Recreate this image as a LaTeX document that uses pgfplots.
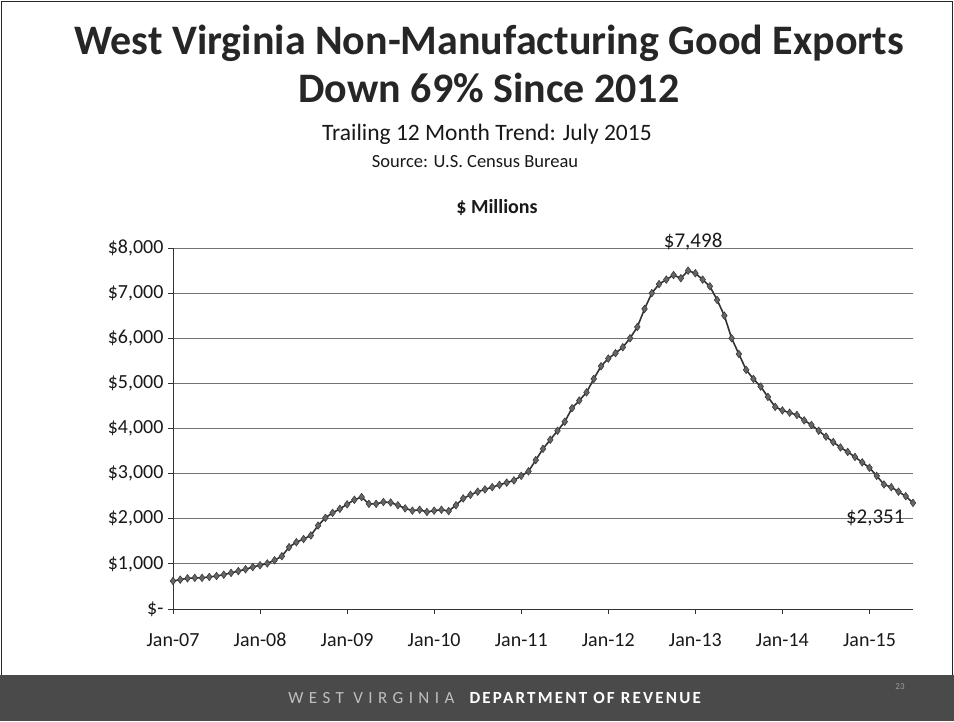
\documentclass[border=0pt]{standalone}
\usepackage{pgfplots}
\pgfplotsset{compat=1.18}
\usepackage{fontspec}
\setmainfont{Carlito}
\definecolor{linegray}{HTML}{333333}
\definecolor{markgray}{HTML}{666666}
\definecolor{footbar}{HTML}{4A4A4A}
\begin{document}
\begin{tikzpicture}[x=1pt,y=1pt]
\fill[white] (0,0) rectangle (954,721);
\fill[footbar] (0,0) rectangle (954,46);
\draw[black!85, line width=1.6pt] (1.5,46) -- (1.5,719.5) -- (952.5,719.5) -- (952.5,46);
\node[font=\fontsize{42}{48}\selectfont\bfseries, text=black!85, anchor=base] at (489,666) {West Virginia Non-Manufacturing Good Exports};
\node[font=\fontsize{42}{48}\selectfont\bfseries, text=black!85, anchor=base] at (489,618) {Down 69\% Since 2012};
\node[font=\fontsize{23.5}{27}\selectfont, text=black!90, anchor=base] at (487,580) {Trailing 12 Month Trend: July 2015};
\node[font=\fontsize{18.5}{21}\selectfont, text=black!90, anchor=base] at (475,553) {Source: U.S. Census Bureau};
\node[font=\fontsize{20}{24}\selectfont\bfseries, text=black!90, anchor=base] at (497,507) {\$ Millions};
\node[font=\fontsize{17}{19}\selectfont, text=black!25, anchor=east] at (458,23) {\addfontfeatures{LetterSpace=32}WEST VIRGINIA};
\node[font=\fontsize{17}{19}\selectfont\bfseries, text=white, anchor=west] at (466,23) {\addfontfeatures{LetterSpace=13}DEPARTMENT OF REVENUE};
\node[font=\fontsize{9}{10}\selectfont, text=black!40] at (900,34) {23};
\begin{axis}[
  at={(173pt,112pt)}, anchor=south west, scale only axis,
  width=740pt, height=361pt,
  xmin=0, xmax=102, ymin=0, ymax=8000,
  axis x line=bottom, axis y line=left,
  axis line style={-, black!80, line width=0.9pt},
  xtick={0,12,24,36,48,60,72,84,96},
  xticklabels={Jan-07,Jan-08,Jan-09,Jan-10,Jan-11,Jan-12,Jan-13,Jan-14,Jan-15},
  ytick={0,1000,2000,3000,4000,5000,6000,7000,8000},
  yticklabels={\$-,\$1{,}000,\$2{,}000,\$3{,}000,\$4{,}000,\$5{,}000,\$6{,}000,\$7{,}000,\$8{,}000},
  tick align=outside, major tick length=5pt,
  tick style={black!80, line width=0.8pt},
  ymajorgrids, major grid style={black!55, line width=0.8pt},
  ticklabel style={font=\fontsize{20}{22}\selectfont, text=black!90},
  yticklabel style={xshift=-1pt},
  xticklabel style={anchor=base, yshift=-32pt},
  clip=false,
]
\addplot[color=linegray, line width=1.6pt, mark=diamond*, mark size=3.8pt,
  mark options={fill=markgray, draw=linegray, line width=0.5pt}] table {
x y
0 620
1 650
2 680
3 690
4 690
5 710
6 730
7 760
8 800
9 840
10 880
11 930
12 970
13 1010
14 1080
15 1170
16 1370
17 1480
18 1550
19 1630
20 1850
21 2020
22 2130
23 2220
24 2320
25 2420
26 2480
27 2330
28 2330
29 2370
30 2360
31 2300
32 2230
33 2180
34 2200
35 2150
36 2180
37 2200
38 2170
39 2300
40 2450
41 2530
42 2600
43 2650
44 2700
45 2750
46 2800
47 2850
48 2950
49 3050
50 3300
51 3550
52 3750
53 3950
54 4150
55 4450
56 4620
57 4800
58 5100
59 5380
60 5550
61 5670
62 5800
63 6000
64 6250
65 6650
66 7000
67 7200
68 7300
69 7400
70 7330
71 7498
72 7440
73 7300
74 7150
75 6850
76 6500
77 6000
78 5650
79 5300
80 5100
81 4930
82 4700
83 4480
84 4400
85 4350
86 4300
87 4180
88 4080
89 3950
90 3820
91 3700
92 3580
93 3480
94 3370
95 3250
96 3130
97 2950
98 2760
99 2700
100 2600
101 2500
102 2351
};
\node[font=\fontsize{21}{23}\selectfont, text=black!90, anchor=south] at (axis cs:71.7,7498) [yshift=17pt] {\$7,498};
\node[font=\fontsize{21}{23}\selectfont, text=black!90, anchor=north east] at (axis cs:102,2351) [yshift=-3pt, xshift=-5pt] {\$2,351};
\end{axis}
\end{tikzpicture}
\end{document}
